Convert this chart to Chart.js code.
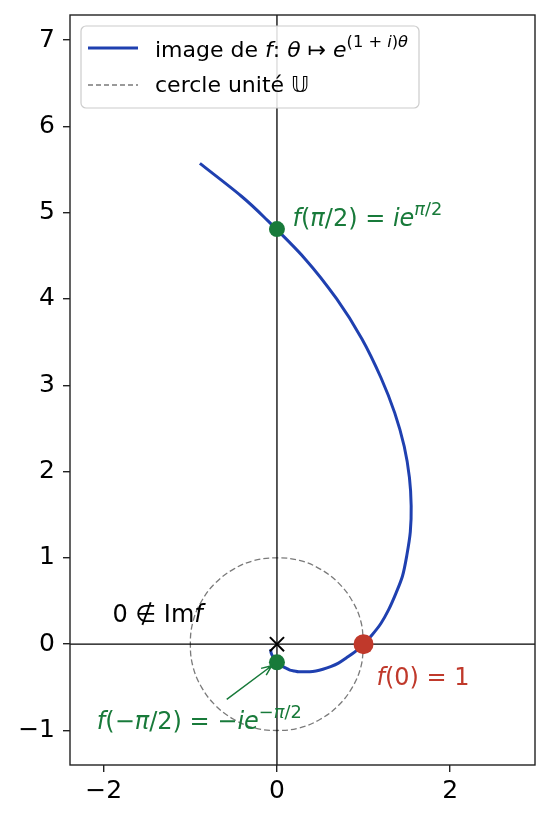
<!DOCTYPE html>
<html>
<head>
<meta charset="utf-8">
<script src="https://cdn.jsdelivr.net/npm/chart.js@4/dist/chart.umd.min.js"></script>
<style>
  html, body { margin: 0; padding: 0; background: #fff; overflow: hidden; }
  #wrap { width: 550px; height: 822px; position: relative; }
</style>
</head>
<body>
<div id="wrap"><canvas id="chartCanvas"></canvas></div>
<script>
// image de f : θ -> e^((1+i)θ) (Re, Im)
const curveX = [-0.89, -0.41, -0.15, 0.32, 0.69, 0.98, 1.20, 1.36, 1.47, 1.53, 1.55, 1.54, 1.50, 1.45, 1.37, 1.29, 1.20, 1.10, 1.00,
                0.90, 0.80, 0.71, 0.62, 0.53, 0.45, 0.38, 0.31, 0.25, 0.20, 0.15, 0.11, 0.07, 0.04, 0.02, -0.01, -0.04, -0.06, -0.07, -0.07];
const curveY = [5.57, 5.19, 4.95, 4.47, 4.00, 3.54, 3.09, 2.68, 2.29, 1.93, 1.60, 1.30, 1.03, 0.79, 0.58, 0.40, 0.24, 0.11, 0.00,
                -0.09, -0.16, -0.22, -0.26, -0.29, -0.31, -0.32, -0.32, -0.32, -0.31, -0.30, -0.28, -0.26, -0.24, -0.22, -0.20, -0.16, -0.12, -0.09, -0.06];

// cercle unité
const circleX = [1, 0.97, 0.87, 0.71, 0.5, 0.26, 0, -0.26, -0.5, -0.71, -0.87, -0.97, -1, -0.97, -0.87, -0.71, -0.5, -0.26, 0, 0.26, 0.5, 0.71, 0.87, 0.97, 1];
const circleY = [0, 0.26, 0.5, 0.71, 0.87, 0.97, 1, 0.97, 0.87, 0.71, 0.5, 0.26, 0, -0.26, -0.5, -0.71, -0.87, -0.97, -1, -0.97, -0.87, -0.71, -0.5, -0.26, 0];

// points remarquables
const greenX = [0, 0];          // f(π/2), f(-π/2)
const greenY = [4.81, -0.21];
const redX = [1];               // f(0)
const redY = [0];
const originX = [0];
const originY = [0];

// axes
const xTicks = [-2, 0, 2];
const yTicks = [-1, 0, 1, 2, 3, 4, 5, 6, 7];
const xMin = -2.39, xMax = 2.98;
const yMin = -1.40, yMax = 7.29;

// couleurs
const blue = '#1f40b0';
const green = '#187a3a';
const red = '#c0392b';
const FONT = '"DejaVu Sans", sans-serif';

function pts(xs, ys) {
    return xs.map((x, i) => ({ x: x, y: ys[i] }));
}

// texte "mathématique" : morceaux [texte, style] (i = italique, s = exposant)
function rich(ctx, parts, x, y, size, color) {
    let cx = x;
    ctx.fillStyle = color;
    ctx.textAlign = 'left';
    ctx.textBaseline = 'alphabetic';
    parts.forEach(([t, s]) => {
        const sup = s.includes('s');
        const it = s.includes('i');
        const fs = sup ? size * 0.74 : size;
        ctx.font = (it ? 'italic ' : '') + fs + 'px ' + FONT;
        ctx.fillText(t, cx, sup ? y - size * 0.45 : y);
        cx += ctx.measureText(t).width;
    });
}

const overlay = {
    id: 'overlay',
    afterDraw(chart) {
        const ctx = chart.ctx;
        const xs = chart.scales.x, ys = chart.scales.y;
        const a = chart.chartArea;
        const px = v => xs.getPixelForValue(v);
        const py = v => ys.getPixelForValue(v);
        ctx.save();

        // cadre
        ctx.strokeStyle = '#222';
        ctx.lineWidth = 1.4;
        ctx.strokeRect(a.left, a.top, a.right - a.left, a.bottom - a.top);

        // flèche vers f(-π/2)
        const x0 = px(-0.58), y0 = py(-0.64), x1 = px(-0.06), y1 = py(-0.25);
        ctx.strokeStyle = green;
        ctx.lineWidth = 1.5;
        ctx.beginPath();
        ctx.moveTo(x0, y0);
        ctx.lineTo(x1, y1);
        const ang = Math.atan2(y1 - y0, x1 - x0);
        ctx.moveTo(x1 - 11 * Math.cos(ang - 0.4), y1 - 11 * Math.sin(ang - 0.4));
        ctx.lineTo(x1, y1);
        ctx.lineTo(x1 - 11 * Math.cos(ang + 0.4), y1 - 11 * Math.sin(ang + 0.4));
        ctx.stroke();

        // annotations
        const S = 24;
        rich(ctx, [['f', 'i'], ['(', ''], ['π', 'i'], ['/2) = ', ''], ['ie', 'i'], ['π', 'si'], ['/2', 's']],
             px(0.18), py(4.85), S, green);
        rich(ctx, [['f', 'i'], ['(0) = 1', '']], px(1.15), py(-0.47), S, red);
        rich(ctx, [['0 ∉ Im', ''], ['f', 'i']], px(-1.9), py(0.26), S, '#000');
        rich(ctx, [['f', 'i'], ['(−', ''], ['π', 'i'], ['/2) = −', ''], ['ie', 'i'], ['−', 's'], ['π', 'si'], ['/2', 's']],
             px(-2.08), py(-0.98), S, green);

        // légende
        const lx = 81, ly = 26, lw = 338, lh = 82;
        ctx.fillStyle = 'rgba(255,255,255,0.85)';
        ctx.strokeStyle = '#cccccc';
        ctx.lineWidth = 1.2;
        ctx.beginPath();
        ctx.roundRect(lx, ly, lw, lh, 5);
        ctx.fill();
        ctx.stroke();

        ctx.strokeStyle = blue;
        ctx.lineWidth = 3;
        ctx.beginPath();
        ctx.moveTo(88, 48);
        ctx.lineTo(138, 48);
        ctx.stroke();

        ctx.strokeStyle = '#7a7a7a';
        ctx.lineWidth = 1.3;
        ctx.setLineDash([5, 3]);
        ctx.beginPath();
        ctx.moveTo(88, 85);
        ctx.lineTo(138, 85);
        ctx.stroke();
        ctx.setLineDash([]);

        const L = 22;
        rich(ctx, [['image de ', ''], ['f', 'i'], [': ', ''], ['θ', 'i'], [' ↦ ', ''], ['e', 'i'],
                   ['(1 + ', 's'], ['i', 'si'], [')', 's'], ['θ', 'si']], 155, 57, L, '#000');
        rich(ctx, [['cercle unité ', ''], ['𝕌', '']], 155, 92, L, '#000');

        ctx.restore();
    }
};

const ctx = document.getElementById('chartCanvas').getContext('2d');
new Chart(ctx, {
    type: 'scatter',
    data: {
        datasets: [
            {
                data: pts(originX, originY),
                pointStyle: 'crossRot', pointRadius: 10, borderColor: '#000', borderWidth: 2,
                showLine: false, order: 0
            },
            {
                data: pts(redX, redY),
                pointRadius: 10, backgroundColor: red, borderWidth: 0,
                showLine: false, order: 0
            },
            {
                data: pts(greenX, greenY),
                pointRadius: 8, backgroundColor: green, borderWidth: 0,
                showLine: false, order: 0
            },
            {
                // axe réel
                data: [{ x: xMin, y: 0 }, { x: xMax, y: 0 }],
                showLine: true, borderColor: '#000', borderWidth: 1.3, pointRadius: 0, order: 1
            },
            {
                // axe imaginaire
                data: [{ x: 0, y: yMin }, { x: 0, y: yMax }],
                showLine: true, borderColor: '#000', borderWidth: 1.3, pointRadius: 0, order: 1
            },
            {
                data: pts(curveX, curveY),
                showLine: true, borderColor: blue, borderWidth: 3, pointRadius: 0,
                tension: 0.3, order: 2
            },
            {
                data: pts(circleX, circleY),
                showLine: true, borderColor: '#7a7a7a', borderWidth: 1.3, borderDash: [6, 3],
                pointRadius: 0, tension: 0.4, order: 3
            }
        ]
    },
    options: {
        responsive: true,
        maintainAspectRatio: false,
        animation: false,
        layout: { padding: { top: 15, right: 15, left: 0, bottom: 0 } },
        plugins: { legend: { display: false }, tooltip: { enabled: false } },
        scales: {
            x: {
                min: xMin, max: xMax,
                afterBuildTicks: axis => { axis.ticks = xTicks.map(v => ({ value: v })); },
                afterFit: scale => { scale.height = 57; scale.paddingLeft = 0; scale.paddingRight = 0; },
                border: { display: false },
                grid: { drawOnChartArea: false, drawTicks: true, tickLength: 7, color: '#222', lineWidth: 1.4 },
                ticks: {
                    color: '#000', padding: 4,
                    font: { family: 'DejaVu Sans', size: 25 },
                    callback: v => String(v).replace('-', '\u2212')
                }
            },
            y: {
                min: yMin, max: yMax,
                afterBuildTicks: axis => { axis.ticks = yTicks.map(v => ({ value: v })); },
                afterFit: scale => { scale.width = 70; scale.paddingTop = 0; scale.paddingBottom = 0; },
                border: { display: false },
                grid: { drawOnChartArea: false, drawTicks: true, tickLength: 7, color: '#222', lineWidth: 1.4 },
                ticks: {
                    color: '#000', padding: 8,
                    font: { family: 'DejaVu Sans', size: 25 },
                    callback: v => String(v).replace('-', '\u2212')
                }
            }
        }
    },
    plugins: [overlay]
});
</script>
</body>
</html>
